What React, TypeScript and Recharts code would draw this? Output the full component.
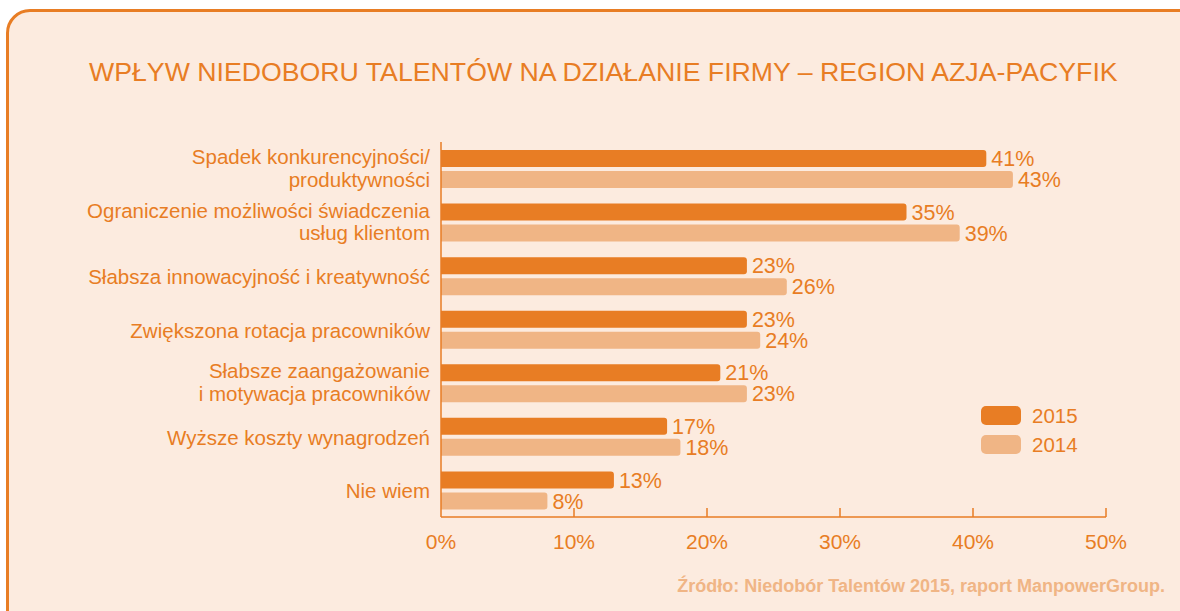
import { BarChart, Bar, XAxis, YAxis, LabelList } from 'recharts';

const ORANGE = '#e87d24';
const LIGHT = '#f0b585';
const BG = '#fcebdf';
const FONT = '"Liberation Sans", Arial, Helvetica, sans-serif';

const categories = [
  'Spadek konkurencyjności/\nproduktywności',
  'Ograniczenie możliwości świadczenia\nusług klientom',
  'Słabsza innowacyjność i kreatywność',
  'Zwiększona rotacja pracowników',
  'Słabsze zaangażowanie\ni motywacja pracowników',
  'Wyższe koszty wynagrodzeń',
  'Nie wiem',
];
const values2015 = [41, 35, 23, 23, 21, 17, 13];
const values2014 = [43, 39, 26, 24, 23, 18, 8];
const xTicks = [0, 10, 20, 30, 40, 50];
const seriesNames = ['2015', '2014'];

const data = categories.map((name, i) => ({ name, y2015: values2015[i], y2014: values2014[i] }));

function CategoryTick({ x, y, payload }: any) {
  const lines = String(payload.value).split('\n');
  const step = 22.5;
  const start = y - ((lines.length - 1) * step) / 2 - (lines.length > 1 ? 1.5 : 0);
  return (
    <text x={x - 3} y={start} textAnchor="end" fill={ORANGE} fontSize={20.5} fontFamily={FONT} dominantBaseline="central">
      {lines.map((l, i) => (
        <tspan key={i} x={x - 3} y={start + i * step}>{l}</tspan>
      ))}
    </text>
  );
}

function PercentTick({ x, y, payload }: any) {
  return (
    <g>
      {payload.value > 0 && <line x1={x} x2={x} y1={y - 9} y2={y} stroke={ORANGE} strokeWidth={1.5} />}
      <text x={x} y={y + 24} textAnchor="middle" fill={ORANGE} fontSize={21} fontFamily={FONT} dominantBaseline="central">
        {payload.value}%
      </text>
    </g>
  );
}

export default function App() {
  const colors = [ORANGE, LIGHT];
  return (
    <div style={{ position: 'absolute', left: 0, top: 0, width: 1180, height: 611, overflow: 'hidden', background: '#fff' }}>
      <div style={{ position: 'absolute', left: 6, top: 9, width: 1240, height: 700, border: `3px solid ${ORANGE}`, borderRadius: 24, background: BG }} />
      <div style={{ position: 'absolute', left: 89, top: 57, color: ORANGE, fontSize: 26.7, fontFamily: FONT, whiteSpace: 'nowrap' }}>
        WPŁYW NIEDOBORU TALENTÓW NA DZIAŁANIE FIRMY – REGION AZJA-PACYFIK
      </div>
      <div style={{ position: 'absolute', right: 15, top: 576, color: LIGHT, fontSize: 18, fontWeight: 700, fontFamily: FONT, whiteSpace: 'nowrap' }}>
        Źródło: Niedobór Talentów 2015, raport ManpowerGroup.
      </div>
      <div style={{ position: 'absolute', left: 981, top: 401 }}>
        {seriesNames.map((s, i) => (
          <div key={s} style={{ display: 'flex', alignItems: 'center', height: 29 }}>
            <div style={{ width: 40, height: 19, borderRadius: 5, background: colors[i] }} />
            <span style={{ marginLeft: 11, color: ORANGE, fontSize: 20.5, fontFamily: FONT }}>{s}</span>
          </div>
        ))}
      </div>
      <div style={{ position: 'absolute', left: 0, top: 0 }}>
        <BarChart
          width={1180}
          height={611}
          data={data}
          layout="vertical"
          margin={{ top: 142, right: 74, bottom: 54, left: 0 }}
          barCategoryGap={8}
          barGap={4}
        >
          <XAxis
            type="number"
            domain={[0, 50]}
            ticks={xTicks}
            interval={0}
            height={40}
            tickSize={0}
            tickMargin={0}
            tickLine={false}
            axisLine={{ stroke: ORANGE, strokeWidth: 1.5 }}
            tick={<PercentTick />}
          />
          <YAxis
            type="category"
            dataKey="name"
            width={441}
            tickLine={false}
            axisLine={{ stroke: ORANGE, strokeWidth: 1.5 }}
            tick={<CategoryTick />}
          />
          <Bar dataKey="y2015" fill={ORANGE} barSize={17} radius={[0, 3, 3, 0]} isAnimationActive={false}>
            <LabelList dataKey="y2015" position="right" offset={5} formatter={(v: any) => `${v}%`} fill={ORANGE} fontSize={21.5} fontFamily={FONT} />
          </Bar>
          <Bar dataKey="y2014" fill={LIGHT} barSize={17} radius={[0, 3, 3, 0]} isAnimationActive={false}>
            <LabelList dataKey="y2014" position="right" offset={5} formatter={(v: any) => `${v}%`} fill={ORANGE} fontSize={21.5} fontFamily={FONT} />
          </Bar>
        </BarChart>
      </div>
    </div>
  );
}
